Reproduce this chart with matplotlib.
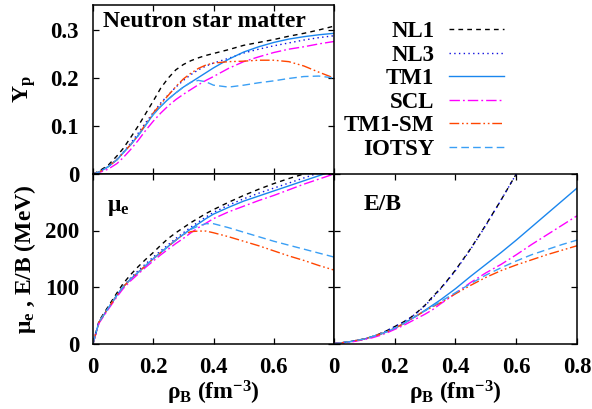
import numpy as np
import matplotlib
matplotlib.use("Agg")
import matplotlib.pyplot as plt

plt.rcParams['font.family'] = ['Liberation Serif', 'DejaVu Serif']
plt.rcParams['font.weight'] = 'bold'
plt.rcParams['axes.labelweight'] = 'bold'
plt.rcParams['mathtext.fontset'] = 'custom'
plt.rcParams['mathtext.rm'] = 'Liberation Serif:bold'
plt.rcParams['mathtext.bf'] = 'Liberation Serif:bold'
plt.rcParams['mathtext.it'] = 'Liberation Serif'
plt.rcParams['lines.scale_dashes'] = False

# ---------------- data ----------------
rho = [0, 0.02, 0.05, 0.08, 0.1, 0.125, 0.15, 0.175, 0.2, 0.225, 0.25, 0.275,
       0.3, 0.325, 0.35, 0.375, 0.4, 0.45, 0.5, 0.55, 0.6, 0.65, 0.7, 0.75, 0.8]

models = ["NL1", "NL3", "TM1", "SCL", "TM1-SM", "IOTSY"]

yp_NL1 = [0, 0.006, 0.018, 0.038, 0.053, 0.076, 0.100, 0.126, 0.152, 0.179, 0.200, 0.217,
          0.228, 0.236, 0.242, 0.247, 0.251, 0.259, 0.268, 0.274, 0.280, 0.287, 0.293, 0.300, 0.308]
yp_NL3 = [0, 0.004, 0.015, 0.031, 0.045, 0.064, 0.085, 0.107, 0.128, 0.148, 0.165, 0.181,
          0.195, 0.207, 0.217, 0.225, 0.231, 0.241, 0.252, 0.260, 0.267, 0.273, 0.279, 0.284, 0.288]
yp_TM1 = [0, 0.004, 0.015, 0.030, 0.044, 0.061, 0.080, 0.102, 0.124, 0.141, 0.156, 0.169,
          0.181, 0.191, 0.201, 0.211, 0.221, 0.239, 0.254, 0.265, 0.274, 0.281, 0.286, 0.290, 0.293]
yp_SCL = [0, 0.003, 0.010, 0.022, 0.034, 0.051, 0.070, 0.091, 0.110, 0.127, 0.142, 0.155,
          0.166, 0.176, 0.186, 0.195, 0.203, 0.220, 0.234, 0.244, 0.253, 0.260, 0.265, 0.271, 0.276]
yp_TM1SM = [0, 0.004, 0.015, 0.030, 0.044, 0.061, 0.081, 0.104, 0.127, 0.146, 0.164, 0.182,
            0.198, 0.210, 0.220, 0.227, 0.231, 0.234, 0.235, 0.237, 0.237, 0.234, 0.225, 0.212, 0.200]
yp_IOTSY = [0, 0.004, 0.015, 0.030, 0.044, 0.061, 0.080, 0.102, 0.124, 0.141, 0.156, 0.169,
            0.181, 0.191, 0.195, 0.192, 0.185, 0.181, 0.185, 0.190, 0.194, 0.199, 0.203, 0.204, 0.200]

mu_NL1 = [0, 40, 65, 90, 106, 122, 136, 149, 161, 174, 186, 196,
          205, 214, 222, 230, 237, 250, 262, 273, 283, 292, 300, 309, 318]
mu_NL3 = [0, 38, 62, 86, 101, 116, 129, 141, 153, 164, 175, 186,
          196, 206, 215, 224, 232, 245, 256, 266, 275, 284, 293, 302, 311]
mu_TM1 = [0, 38, 62, 86, 100, 114, 126, 138, 150, 161, 172, 183,
          193, 203, 212, 221, 229, 241, 252, 261, 270, 279, 288, 297, 306]
mu_SCL = [0, 36, 60, 83, 97, 111, 123, 135, 146, 157, 167, 177,
          186, 196, 205, 213, 221, 233, 243, 253, 262, 272, 282, 291, 300]
mu_TM1SM = [0, 38, 62, 86, 100, 114, 126, 138, 150, 161, 172, 183,
            193, 198, 199, 199, 196, 189, 181, 173, 164, 155, 147, 138, 130]
mu_IOTSY = [0, 38, 62, 86, 100, 114, 126, 138, 150, 161, 172, 183,
            193, 202, 208, 212, 212, 205, 197, 189, 181, 174, 167, 160, 153]

eb_NL1 = [0, 1, 3, 6, 8, 12, 17, 23, 30, 37, 45, 56,
          68, 83, 97, 113, 130, 168, 210, 254, 300, 348, np.nan, np.nan, np.nan]
eb_NL3 = [0, 1, 3, 6, 8, 12, 17, 23, 30, 37, 45, 55,
          67, 81, 96, 112, 129, 167, 209, 254, 300, 350, np.nan, np.nan, np.nan]
eb_TM1 = [0, 1, 3, 6, 8, 12, 16, 21, 27, 34, 42, 50,
          59, 68, 77, 87, 97, 119, 140, 161, 183, 206, 229, 252, 275]
eb_SCL = [0, 1, 2, 5, 7, 10, 14, 19, 25, 31, 38, 45,
          52, 60, 70, 79, 89, 108, 125, 140, 157, 175, 192, 209, 226]
eb_TM1SM = [0, 1, 3, 6, 8, 12, 16, 21, 27, 34, 42, 50,
            58, 65, 72, 80, 88, 103, 117, 129, 139, 148, 157, 165, 173]
eb_IOTSY = [0, 1, 3, 6, 8, 12, 16, 21, 27, 34, 42, 50,
            58, 66, 74, 82, 90, 106, 121, 134, 146, 157, 166, 175, 183]

yp_data = [yp_NL1, yp_NL3, yp_TM1, yp_SCL, yp_TM1SM, yp_IOTSY]
mu_data = [mu_NL1, mu_NL3, mu_TM1, mu_SCL, mu_TM1SM, mu_IOTSY]
eb_data = [eb_NL1, eb_NL3, eb_TM1, eb_SCL, eb_TM1SM, eb_IOTSY]

# ---------------- styles ----------------
colors = ["#000000", "#1010e0", "#1a86ee", "#ff00ff", "#ff4500", "#3a9ff5"]
dashes = [(3.4, 3.0), (1.0, 2.4), None, (7.5, 2.2, 1.3, 2.2), (7.0, 2.0, 1.2, 2.0, 1.2, 2.0), (5.5, 3.0)]
lw = 1.0

fig = plt.figure(figsize=(5.92, 4.09), dpi=100)
W, H = 592.0, 409.0
def rect(x0, y0, x1, y1):
    return [x0 / W, 1 - y1 / H, (x1 - x0) / W, (y1 - y0) / H]

ax_yp = fig.add_axes(rect(93, 5, 334, 174))
ax_mu = fig.add_axes(rect(93, 174, 334, 343.5))
ax_eb = fig.add_axes(rect(334, 174, 577, 343.5))

def draw(ax, data):
    lines = []
    for name, y, c, d in zip(models, data, colors, dashes):
        ln, = ax.plot(rho, y, color=c, lw=lw, label=name)
        if d is not None:
            ln.set_dashes(d)
        lines.append(ln)
    return lines

handles = draw(ax_yp, yp_data)
draw(ax_mu, mu_data)
draw(ax_eb, eb_data)

tick_fs = 16.5
for ax in (ax_yp, ax_mu, ax_eb):
    ax.set_xlim(0, 0.8)
    ax.tick_params(direction='in', length=4.5, width=0.9, top=True, right=True,
                   labelsize=tick_fs)
    ax.tick_params(axis='y', pad=10)
    ax.tick_params(axis='x', pad=10)
    for s in ax.spines.values():
        s.set_linewidth(1.1)
    ax.set_xticks([0, 0.2, 0.4, 0.6, 0.8])

ax_yp.set_ylim(0, 0.352)
ax_yp.set_yticks([0, 0.1, 0.2, 0.3])
ax_yp.set_yticklabels(["0", "0.1", "0.2", "0.3"])
ax_yp.tick_params(labelbottom=False)

for ax in (ax_mu, ax_eb):
    ax.set_ylim(0, 300)
    ax.set_yticks([0, 100, 200, 300])

ax_mu.set_yticklabels(["0", "100", "200", ""])
ax_mu.set_xticklabels(["0", "0.2", "0.4", "0.6", ""])
ax_eb.set_xticklabels(["0", "0.2", "0.4", "0.6", "0.8"])
ax_eb.tick_params(labelleft=False)

lab_fs = 17
ax_yp.set_ylabel(r'$\mathrm{Y_p}$', fontsize=lab_fs)
ax_mu.set_ylabel(r'$\mu_\mathrm{e}$ , E/B (MeV)', fontsize=lab_fs)
ax_mu.set_xlabel(r'$\rho_\mathrm{B}$ (fm$^\mathrm{-3}$)', fontsize=lab_fs, labelpad=0)
ax_eb.set_xlabel(r'$\rho_\mathrm{B}$ (fm$^\mathrm{-3}$)', fontsize=lab_fs, labelpad=0)
ax_yp.yaxis.set_label_coords(-0.228, 0.5)
ax_mu.yaxis.set_label_coords(-0.228, 0.5)

ax_yp.text(0.04, 0.965, "Neutron star matter", transform=ax_yp.transAxes,
           fontsize=17, fontweight='bold', va='top', ha='left')
ax_mu.text(0.06, 0.74, r'$\mu_\mathrm{e}$', transform=ax_mu.transAxes,
           fontsize=17, va='bottom', ha='left')
ax_eb.text(0.12, 0.76, "E/B", transform=ax_eb.transAxes,
           fontsize=17, fontweight='bold', va='bottom', ha='left')

leg = fig.legend(handles, models, loc='upper left', bbox_to_anchor=(344 / W, 1 - 21 / H),
                 frameon=False, markerfirst=False, fontsize=16.5, handlelength=2.4,
                 handletextpad=0.62, labelspacing=0.11, borderpad=0, borderaxespad=0)

fig.savefig("out.png", dpi=100)
